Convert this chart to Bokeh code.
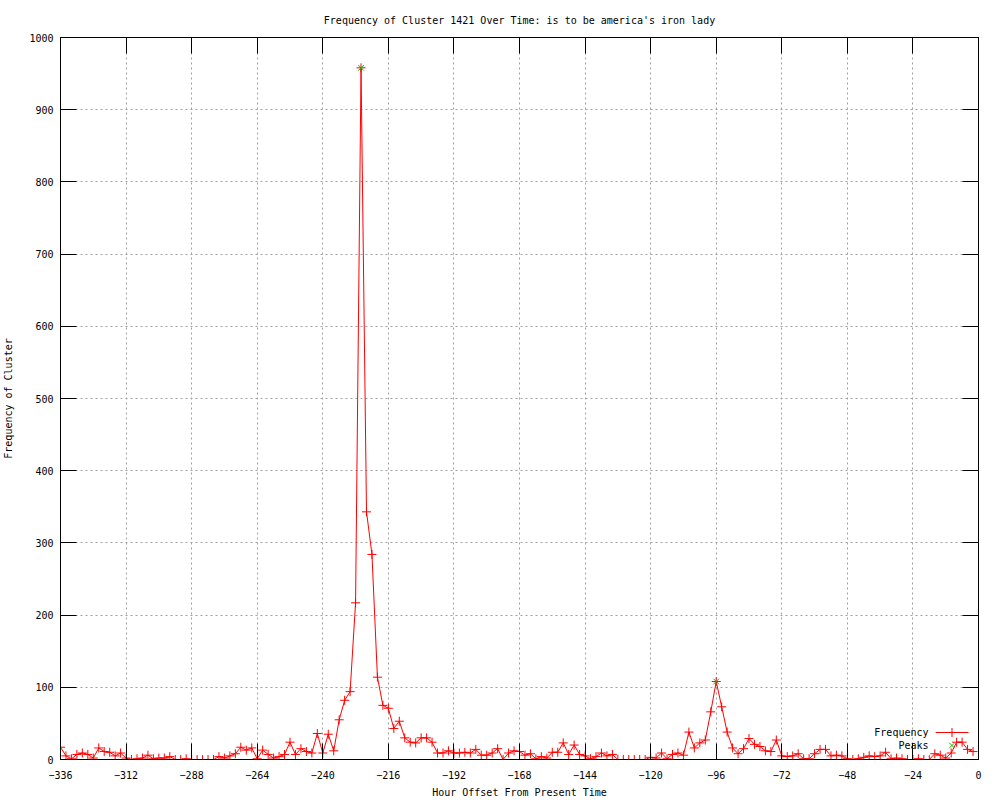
from bokeh.plotting import figure
from bokeh.models import FixedTicker, LinearAxis, Label, Range1d
from bokeh.embed import file_html
from bokeh.resources import INLINE

# ---- data ----
hours = list(range(-336, 0, 2))
freq = [17, 5, 1, 7, 9, 7, 2, 16, 11, 10,
        5, 9, 2, 0, 1, 2, 6, 1, 2, 2,
        4, 0, 0, 1, 0, 0, 0, 0, 0, 4,
        2, 5, 8, 17, 13, 16, 1, 13, 7, 2,
        4, 7, 24, 7, 15, 11, 9, 36, 9, 35,
        12, 55, 82, 94, 217, 958, 343, 284, 114, 75,
        71, 43, 53, 30, 24, 23, 30, 30, 24, 9,
        9, 12, 9, 9, 10, 9, 14, 6, 6, 9,
        15, 0, 9, 12, 11, 6, 8, 1, 4, 2,
        10, 10, 23, 7, 20, 7, 5, 1, 4, 9,
        5, 7, 0, 0, 0, 0, 0, 0, 3, 2,
        9, 1, 7, 9, 6, 38, 16, 23, 27, 66,
        108, 73, 38, 16, 8, 15, 29, 21, 18, 12,
        11, 27, 5, 4, 5, 8, 1, 1, 8, 14,
        14, 5, 6, 5, 1, 0, 1, 3, 5, 4,
        5, 10, 1, 2, 1, 0, 0, 1, 0, 0,
        8, 6, 2, 9, 24, 24, 14, 11]
peak_hours = [-226, -96]
peak_values = [958, 108]

x_ticks = list(range(-336, 1, 24))
y_ticks = list(range(0, 1001, 100))

title_text = "Frequency of Cluster 1421 Over Time: is to be america's iron lady"
x_label = "Hour Offset From Present Time"
y_label = "Frequency of Cluster"
legend_labels = ["Frequency", "Peaks"]

FONT = "DejaVu Sans Mono"
FS = "10px"
RED = "#ff0000"
GREEN = "#00c000"

p = figure(frame_width=918, frame_height=722, x_range=Range1d(-336, 0), y_range=Range1d(0, 1000),
           output_backend="svg", toolbar_location=None,
           min_border_left=60, min_border_right=8, min_border_top=37, min_border_bottom=40,
           title=title_text)
p.background_fill_color = "white"
p.border_fill_color = "white"
p.outline_line_color = "black"
p.outline_line_width = 1

p.title.align = "center"
p.title.text_font = FONT
p.title.text_font_size = FS
p.title.text_font_style = "normal"
p.title.text_color = "black"
p.title.standoff = 23

def style_axis(ax, ticks, labels=True):
    ax.ticker = FixedTicker(ticks=ticks)
    ax.major_tick_in = 16
    ax.major_tick_out = 0
    ax.minor_tick_line_color = None
    ax.major_tick_line_color = "black"
    ax.axis_line_color = "black"
    ax.major_label_text_font = FONT
    ax.major_label_text_font_size = FS if labels else "1px"
    ax.major_label_text_color = "black" if labels else None
    ax.axis_label_text_font = FONT
    ax.axis_label_text_font_size = FS
    ax.axis_label_text_font_style = "normal"
    ax.axis_label_text_color = "black"

xa = p.below[0]
ya = p.left[0]
style_axis(xa, x_ticks)
style_axis(ya, y_ticks)
xa.axis_label = x_label
ya.axis_label = y_label
xa.major_label_standoff = 11
xa.axis_label_standoff = 5
ya.major_label_standoff = 7
ya.axis_label_standoff = 12

top = LinearAxis()
right = LinearAxis()
style_axis(top, x_ticks, labels=False)
style_axis(right, y_ticks, labels=False)
top.major_label_standoff = 0
right.major_label_standoff = 0
p.add_layout(top, "above")
p.add_layout(right, "right")

p.xgrid.ticker = FixedTicker(ticks=x_ticks)
p.ygrid.ticker = FixedTicker(ticks=y_ticks)
for g in (p.xgrid, p.ygrid):
    g.grid_line_color = "#a0a0a0"
    g.grid_line_dash = "2 3"
    g.grid_line_width = 1

p.line(hours, freq, line_color=RED, line_width=1)
p.scatter(hours, freq, marker="cross", size=9, line_color=RED, line_width=1)
p.scatter(peak_hours, peak_values, marker="x", size=8, line_color=GREEN, line_width=1)

# ---- legend (gnuplot style: text left, sample right) ----
leg_text_x = -18.3
leg_sample_x = [-15.7, -3.65]
leg_mid_x = -9.7
leg_y = [37.4, 19.4]
for lbl, yy in zip(legend_labels, leg_y):
    p.add_layout(Label(x=leg_text_x, y=yy, text=lbl, text_align="right", text_baseline="middle",
                       text_font=FONT, text_font_size=FS, text_color="black"))
p.line(leg_sample_x, [leg_y[0], leg_y[0]], line_color=RED, line_width=1)
p.scatter([leg_mid_x], [leg_y[0]], marker="cross", size=9, line_color=RED, line_width=1)
p.scatter([leg_mid_x], [leg_y[1]], marker="x", size=8, line_color=GREEN, line_width=1)

open("out.html", "w").write(file_html(p, INLINE))
